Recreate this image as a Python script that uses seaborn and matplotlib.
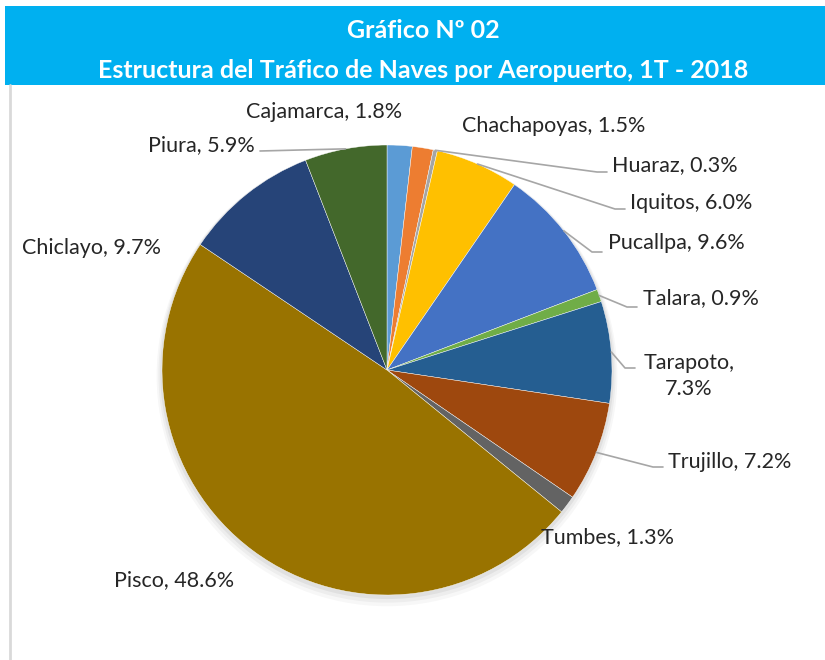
import seaborn as sns
import matplotlib.pyplot as plt
import numpy as np
from matplotlib.patches import Rectangle

# datos del gráfico
aeropuertos = ["Cajamarca", "Chachapoyas", "Huaraz", "Iquitos", "Pucallpa", "Talara",
               "Tarapoto", "Trujillo", "Tumbes", "Pisco", "Chiclayo", "Piura"]
participacion = [1.8, 1.5, 0.3, 6.0, 9.6, 0.9, 7.3, 7.2, 1.3, 48.6, 9.7, 5.9]
colores = ["#5B9BD5", "#ED7D31", "#A5A5A5", "#FFC000", "#4472C4", "#70AD47",
           "#255E91", "#9E480E", "#636363", "#997300", "#264478", "#43682B"]

titulo1 = "Gráfico Nº 02"
titulo2 = "Estructura del Tráfico de Naves por Aeropuerto, 1T - 2018"

# layout en pixeles (x, y desde arriba): posicion del texto, alineacion, fin de linea guia
W, H = 825, 660
CX, CY, R = 387, 370, 225
etiquetas = {
    "Cajamarca":   ((324, 112), "center", None),
    "Chachapoyas": ((554, 126), "center", None),
    "Huaraz":      ((612, 165), "left", (607, 172)),
    "Iquitos":     ((630, 203), "left", (625, 209)),
    "Pucallpa":    ((608, 243), "left", (602, 252)),
    "Talara":      ((643, 298), "left", (637, 307)),
    "Tarapoto":    ((689, 376), "center", (635, 368)),
    "Trujillo":    ((668, 462), "left", (663, 467)),
    "Tumbes":      ((608, 537), "center", None),
    "Pisco":       ((174, 580), "center", None),
    "Chiclayo":    ((92, 248), "center", None),
    "Piura":       ((255, 145), "right", (260, 151)),
}

sns.set_theme(style="white")
plt.rcParams["font.family"] = ["Lato", "DejaVu Sans"]


def a_datos(px, py):
    return (px - CX) / R, (CY - py) / R


fig = plt.figure(figsize=(W / 100, H / 100), dpi=100)

# banda del titulo y borde
fig.patches.append(Rectangle((5 / W, 1 - 85 / H), 1, 79 / H, transform=fig.transFigure,
                             facecolor="#00B0F0", edgecolor="none"))
fig.add_artist(plt.Line2D([10 / W, 10 / W], [0, 1 - 85 / H], transform=fig.transFigure,
                          color="#D9D9D9", lw=2))
fig.text(423 / W, 1 - 31 / H, titulo1, color="white", fontsize=18, fontweight="bold",
         ha="center", va="center")
fig.text(423 / W, 1 - 70 / H, titulo2, color="white", fontsize=18, fontweight="bold",
         ha="center", va="center")

ax = fig.add_axes([(CX - 2 * R) / W, (H - CY - 2 * R) / H, 4 * R / W, 4 * R / H])

# sombra suave bajo el pastel
for i, a in enumerate([0.05, 0.04, 0.03]):
    ax.add_patch(plt.Circle((0.0, -0.01 - 0.008 * i), 1.0 + 0.008 * (i + 1),
                            color="black", alpha=a, lw=0))

wedges, _ = ax.pie(participacion, colors=colores, startangle=90, counterclock=False,
                   radius=1, wedgeprops=dict(edgecolor="white", linewidth=0.3))
ax.set_xlim(-2, 2)
ax.set_ylim(-2, 2)
ax.axis("off")

for w, nombre, valor in zip(wedges, aeropuertos, participacion):
    (tx, ty), ha, fin = etiquetas[nombre]
    texto = f"{nombre}, {valor:.1f}%"
    if nombre == "Tarapoto":
        texto = f"{nombre},\n{valor:.1f}%"
    x, y = a_datos(tx, ty)
    ax.text(x, y, texto, ha=ha, va="center", fontsize=15.5, color="#262626",
            multialignment="center", linespacing=1.4)
    if fin is not None:
        ang = np.deg2rad((w.theta1 + w.theta2) / 2)
        x0, y0 = np.cos(ang), np.sin(ang)
        x2, y2 = a_datos(*fin)
        dx = 10 / R if ha == "left" or nombre == "Tarapoto" else 0
        ax.plot([x0, x2 - dx, x2], [y0, y2, y2], color="#A6A6A6", lw=1.2)

fig.savefig("out.png", dpi=100, facecolor="white")
